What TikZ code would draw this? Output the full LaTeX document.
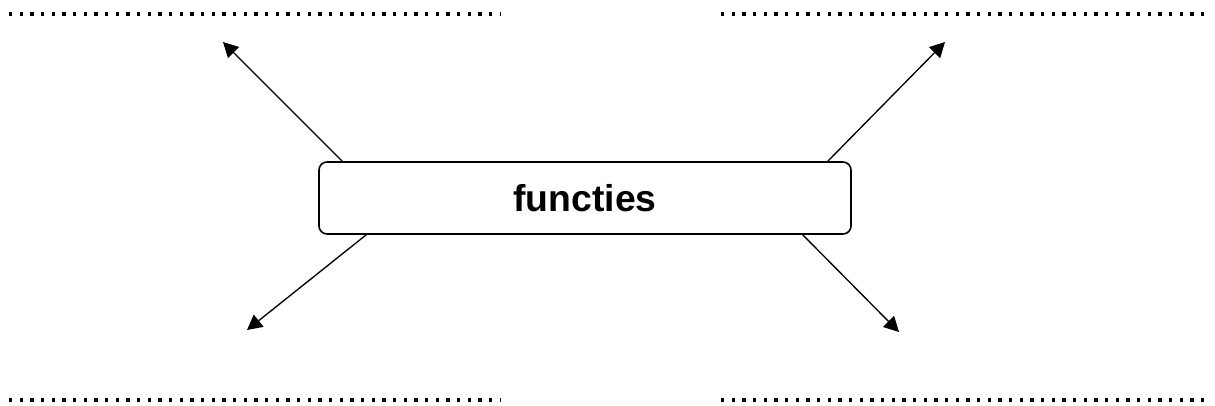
\documentclass[tikz,border=0pt]{standalone}
\usepackage{fontspec}
\setmainfont{Liberation Sans}
\usetikzlibrary{arrows.meta,positioning}

\begin{document}
\begin{tikzpicture}[
				x=0.375pt, y=-0.375pt,
				arrow/.style={line width=0.5pt, -{Triangle[length=5.6pt, width=5.8pt]}},
				block/.style={draw, line width=0.6pt, rounded corners=3pt, fill=white, minimum width=199.5pt, minimum height=27pt, inner sep=0pt, font=\fontsize{14}{17}\selectfont\bfseries},
				blank/.style={line width=1.2pt, dash pattern=on 1.2pt off 2.8pt},
			]
				\useasboundingbox (0,0) rectangle (1215,405);

				\node[block] (functies) at (585,198) {functies};

				\coordinate (top left) at (223,42);
				\coordinate (top right) at (945,42);
				\coordinate (bottom left) at (247,330);
				\coordinate (bottom right) at (899,332);

				\draw[arrow] ([xshift=9pt]functies.north west) -- (top left);
				\draw[arrow] ([xshift=-9pt]functies.north east) -- (top right);
				\draw[arrow] ([xshift=18pt]functies.south west) -- (bottom left);
				\draw[arrow] ([xshift=-18.4pt]functies.south east) -- (bottom right);

				% answer lines
				\draw[blank] (9,14) -- (500,14);
				\draw[blank] (721,14) -- (1211,14);
				\draw[blank] (9,400) -- (500,400);
				\draw[blank] (721,400) -- (1211,400);
			\end{tikzpicture}
\end{document}
